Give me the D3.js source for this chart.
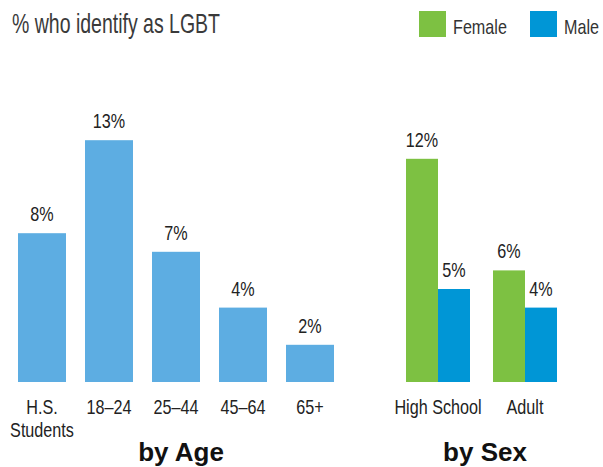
<!DOCTYPE html>
<html><head><meta charset="utf-8">
<script src="https://cdn.jsdelivr.net/npm/d3@7"></script>
<style>
body{margin:0;background:#fff;}
text{font-family:"Liberation Sans",Arial,sans-serif;}
</style></head>
<body><svg id="chart" width="603" height="467"></svg>
<script>
const ageCategories = ["H.S.|Students","18–24","25–44","45–64","65+"];
const ageValues = [8,13,7,4,2];
const sexGroups = ["High School","Adult"];
const sexSeries = ["Female","Male"];
const femaleValues = [12,6];
const maleValues = [5,4];
const titleText = "% who identify as LGBT";
const sectionTitles = ["by Age","by Sex"];

const colors = {age:"#5DADE2", Female:"#7DC142", Male:"#0096D6"};
const svg = d3.select("#chart");
const baseY = 382;
const y = d3.scaleLinear().domain([0,13]).range([baseY, baseY-241.8]);
const squeeze = 0.77;
function condense(sel, f){
  sel.each(function(){
    const w = this.getComputedTextLength();
    d3.select(this).attr("textLength", w*f).attr("lengthAdjust","spacingAndGlyphs");
  });
}

// Title
svg.append("text").attr("x",12).attr("y",33).attr("font-size",28)
  .attr("fill","#3a3a3a").attr("textLength",208).attr("lengthAdjust","spacingAndGlyphs")
  .text(titleText);

// Legend
const legX = {Female:419, Male:530};
sexSeries.forEach(s=>{
  svg.append("rect").attr("x",legX[s]).attr("y",11).attr("width",27).attr("height",26).attr("fill",colors[s]);
  svg.append("text").attr("class","cond").attr("x",legX[s]+34).attr("y",34).attr("font-size",21).attr("fill","#333").text(s);
});

// Age chart
const xAge = d3.scaleBand().domain(ageCategories).range([18,334]).paddingInner(19/67).paddingOuter(0);
const gAge = svg.append("g");
gAge.selectAll("rect").data(ageCategories).join("rect")
  .attr("x",d=>xAge(d)).attr("width",xAge.bandwidth())
  .attr("y",(d,i)=>y(ageValues[i])).attr("height",(d,i)=>baseY-y(ageValues[i]))
  .attr("fill",colors.age);
gAge.selectAll("text.val").data(ageCategories).join("text").attr("class","val cond")
  .attr("x",d=>xAge(d)+xAge.bandwidth()/2).attr("y",(d,i)=>y(ageValues[i])-12)
  .attr("text-anchor","middle").attr("font-size",21).attr("fill","#222")
  .text((d,i)=>ageValues[i]+"%");
const axA = gAge.append("g").attr("transform",`translate(0,${baseY})`)
  .call(d3.axisBottom(xAge).tickSize(0).tickPadding(0));
axA.select(".domain").remove();
axA.selectAll(".tick text").each(function(d){
  const t = d3.select(this); t.text(null)
    .attr("font-size",21).attr("fill","#222").attr("dy",null).attr("y",32);
  d.split("|").forEach((line,i)=>{
    t.append("tspan").attr("class","cond").attr("x",0).attr("y",32+i*23).text(line);
  });
});
svg.append("text").attr("x",181).attr("y",461).attr("text-anchor","middle")
  .attr("font-size",26).attr("font-weight","bold").attr("fill","#111").text(sectionTitles[0]);

// Sex chart
const xSex = d3.scaleBand().domain(sexGroups).range([406,557]).paddingInner(23/87).paddingOuter(0);
const xSer = d3.scaleBand().domain(sexSeries).range([0,xSex.bandwidth()]).padding(0);
const sexData = sexGroups.flatMap((g,i)=>[
  {group:g, series:"Female", value:femaleValues[i]},
  {group:g, series:"Male", value:maleValues[i]}]);
const gSex = svg.append("g");
gSex.selectAll("rect").data(sexData).join("rect")
  .attr("x",d=>xSex(d.group)+xSer(d.series)).attr("width",xSer.bandwidth())
  .attr("y",d=>y(d.value)).attr("height",d=>baseY-y(d.value))
  .attr("fill",d=>colors[d.series]);
gSex.selectAll("text.val").data(sexData).join("text").attr("class","val cond")
  .attr("x",d=>xSex(d.group)+xSer(d.series)+xSer.bandwidth()/2).attr("y",d=>y(d.value)-12)
  .attr("text-anchor","middle").attr("font-size",21).attr("fill","#222")
  .text(d=>d.value+"%");
const axS = gSex.append("g").attr("transform",`translate(0,${baseY})`)
  .call(d3.axisBottom(xSex).tickSize(0).tickPadding(0));
axS.select(".domain").remove();
axS.selectAll(".tick text").attr("class","cond").attr("font-size",21).attr("fill","#222").attr("dy",null).attr("y",32);
svg.append("text").attr("x",485).attr("y",461).attr("text-anchor","middle")
  .attr("font-size",26).attr("font-weight","bold").attr("fill","#111").text(sectionTitles[1]);

condense(svg.selectAll(".cond"), squeeze);
</script></body></html>
